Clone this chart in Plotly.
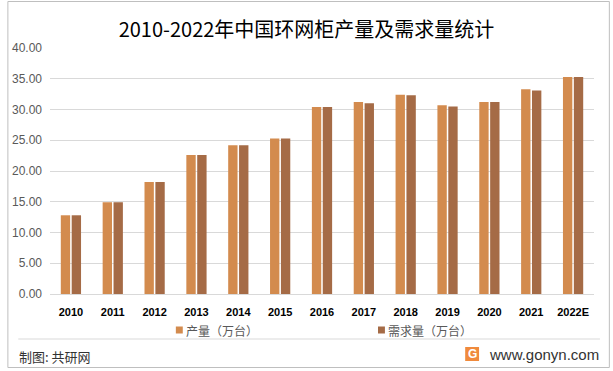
import plotly.graph_objects as go

years = ["2010", "2011", "2012", "2013", "2014", "2015", "2016",
         "2017", "2018", "2019", "2020", "2021", "2022E"]
production = [12.8, 14.9, 18.2, 22.6, 24.2, 25.3, 30.4, 31.2, 32.4, 30.7, 31.2, 33.3, 35.3]
demand = [12.8, 14.9, 18.2, 22.6, 24.2, 25.3, 30.4, 31.0, 32.3, 30.5, 31.2, 33.1, 35.3]
series_names = ["产量（万台）", "需求量（万台）"]
series_colors = ["#D38B4E", "#A56B46"]
y_ticks = [0, 5, 10, 15, 20, 25, 30, 35, 40]
y_tick_text = ["%.2f" % v for v in y_ticks]

W, H = 613, 371
ml, mr, mt, mb = 45, 19, 48, 77

fig = go.Figure()
for vals, name, col in zip([production, demand], series_names, series_colors):
    fig.add_trace(go.Bar(x=years, y=vals, name=name, marker_color=col,
                         marker_line_width=0, showlegend=False))

fig.update_layout(
    width=W, height=H,
    margin=dict(l=ml, r=mr, t=mt, b=mb, pad=0),
    paper_bgcolor="white", plot_bgcolor="white",
    barmode="group", bargap=0.48, bargroupgap=0.14,
    font=dict(family="Liberation Sans, Arial, sans-serif", color="#595959"),
    title=dict(text="2010-2022年中国环网柜产量及需求量统计", x=0.5, xanchor="center",
               y=1 - 30 / H, yanchor="middle",
               font=dict(family="Noto Sans CJK SC", size=20, color="#000000")),
)
fig.update_yaxes(range=[0, 40], tickvals=y_ticks, ticktext=y_tick_text,
                 showgrid=True, gridcolor="#D9D9D9", gridwidth=1,
                 zeroline=True, zerolinecolor="#D9D9D9", zerolinewidth=1,
                 showline=False, ticks="", ticklabelstandoff=7,
                 tickfont=dict(size=12, color="#595959"))
fig.update_xaxes(showgrid=False, showline=False, ticks="",
                 tickfont=dict(size=11, color="#000000", family="Liberation Sans, Arial", weight="bold"),
                 ticklabelstandoff=10)


def px(x):
    return (x - ml) / (W - ml - mr)


def py(y):
    return (H - mb - y) / (H - mt - mb)


# Manual legend
leg_y = 330
leg_x = [172, 376]
for lx, name, col in zip(leg_x, series_names, series_colors):
    fig.add_shape(type="rect", xref="paper", yref="paper",
                  x0=px(lx), x1=px(lx + 7), y0=py(leg_y + 3.5), y1=py(leg_y - 3.5),
                  fillcolor=col, line_width=0)
    fig.add_annotation(text=name, xref="paper", yref="paper",
                       x=px(lx + 8), y=py(leg_y),
                       xanchor="left", yanchor="middle", showarrow=False,
                       font=dict(family="Noto Sans CJK SC", size=12, color="#595959"))

# Outer border & separator
fig.add_shape(type="rect", xref="paper", yref="paper", x0=px(2.5), x1=px(609.5),
              y0=py(367.5), y1=py(1.5), line=dict(color="#BFBFBF", width=1),
              fillcolor="rgba(0,0,0,0)", layer="above")
fig.add_shape(type="line", xref="paper", yref="paper", x0=px(13), x1=px(600),
              y0=py(339), y1=py(339), line=dict(color="#D9D9D9", width=1), layer="above")

# Footer
fig.add_annotation(text="制图: 共研网", xref="paper", yref="paper", x=px(12), y=py(356),
                   xanchor="left", yanchor="middle", showarrow=False,
                   font=dict(family="Noto Sans CJK SC", size=13, color="#333333"))
fig.add_shape(type="rect", xref="paper", yref="paper", x0=px(464), x1=px(478),
              y0=py(361), y1=py(347), fillcolor="#F08A3C", line_width=0)
fig.add_annotation(text="<b>G</b>", xref="paper", yref="paper", x=px(471), y=py(354),
                   xanchor="center", yanchor="middle", showarrow=False,
                   font=dict(family="Liberation Sans", size=12, color="white"))
fig.add_annotation(text="www.gonyn.com", xref="paper", yref="paper", x=px(486), y=py(354),
                   xanchor="left", yanchor="middle", showarrow=False,
                   font=dict(family="Liberation Sans", size=15, color="#333333"))

fig.write_html("out.html", config={"displayModeBar": False},
               post_script="document.body.style.margin='0';")
